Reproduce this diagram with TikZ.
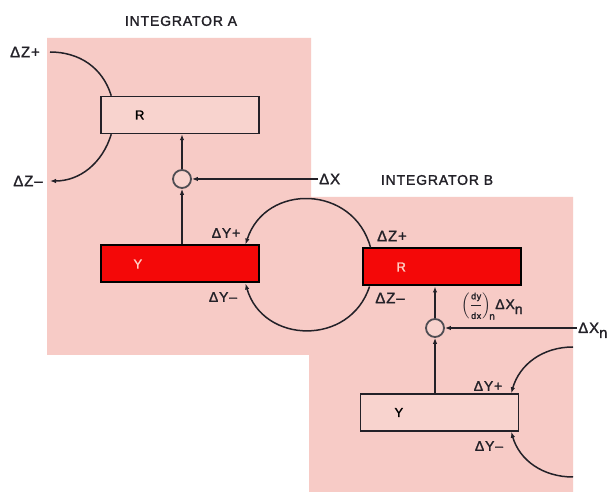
\documentclass[tikz,border=0pt]{standalone}
\usepackage{amsmath}
\usepackage{fontspec}
\setmainfont{Liberation Sans}[LetterSpace=6,FakeBold=1.6]
\usetikzlibrary{arrows.meta,calc}
\definecolor{bgpink}{RGB}{247,203,198}
\definecolor{boxpink}{RGB}{248,211,206}
\definecolor{regred}{RGB}{244,8,8}
\definecolor{ink}{RGB}{35,33,40}
\definecolor{redtext}{RGB}{255,205,195}

\begin{document}
\begin{tikzpicture}[x=1pt,y=1pt,font=\fontsize{14}{16}\selectfont,>={Latex[length=6pt,width=4.5pt]},reg/.style={draw=ink,line width=1.5pt,fill=boxpink,minimum height=37pt,text width=158pt,inner xsep=0pt,align=left,font=\fontsize{13}{15}\selectfont},full/.style={reg,fill=regred,draw=black,line width=2pt,text=redtext},sum/.style={circle,draw=ink!80,line width=1.8pt,fill=boxpink,minimum size=18pt,inner sep=0pt},lbl/.style={inner sep=1pt,text=ink},wire/.style={draw=ink,line width=1.2pt},loop/.style={draw=ink,line width=1.5pt}]
\fill[white] (0,0) rectangle (615,492);
\useasboundingbox (0,0) rectangle (615,492);
\fill[bgpink] (47,454) -- (311,454) -- (311,295) -- (573,295) -- (573,0) -- (309,0) -- (309,137) -- (47,137) -- cycle;
\node[lbl] (titleA) at (181,471) {INTEGRATOR A};
\node[lbl] (titleB) at (437,312) {INTEGRATOR B};
\node[reg] (rA) at (180,377) {\hspace*{34pt}R};
\node[full] (yA) at (179.5,228) {\hspace*{33pt}Y};
\node[full] (rB) at (441.5,225) {\hspace*{34pt}R};
\node[reg] (yB) at (439.5,79.5) {\hspace*{34pt}Y};
\node[sum] (sA) at (182,313) {};
\node[sum] (sB) at (435,164) {};
\node[lbl,anchor=west,font=\fontsize{15}{17}\selectfont] (dx) at (318,313) {ΔX};
\node[lbl,anchor=base west,font=\fontsize{15}{17}\selectfont] (dxn) at (577,159) {ΔX\raisebox{-5pt}{n}};
\node[lbl,font=\fontsize{15}{17}\selectfont] (zpA) at (25,440) {ΔZ+};
\node[lbl,font=\fontsize{15}{17}\selectfont] (zmA) at (28,311) {ΔZ--};
\node[lbl] (ypA) at (226,259) {ΔY+};
\node[lbl] (ymA) at (223,195) {ΔY--};
\node[lbl,font=\fontsize{15}{17}\selectfont] (zpB) at (392,256) {ΔZ+};
\node[lbl,font=\fontsize{15}{17}\selectfont] (zmB) at (390,194) {ΔZ--};
\node[lbl] (ypB) at (488,106) {ΔY+};
\node[lbl] (ymB) at (489,46) {ΔY--};
\node[lbl] (rate) at (492,186) {$\left(\dfrac{\text{\small dy}}{\text{\small dx}}\right)_{\!\text{n}}$ΔX\raisebox{-5pt}{n}};
\coordinate (zsA) at (50,440);
\coordinate (zeA) at (50,311);
\coordinate (ysB) at (573,145);
\coordinate (yeB) at (573,15);
\draw[loop] (zsA) to[out=0,in=107] ($(rA.north west)+(11,0)$);
\draw[loop,->] ($(rA.south west)+(11,0)$) to[out=-107,in=0] (zeA);
\draw[loop,->] ($(rB.north west)+(9,0)$) to[out=105,in=72,looseness=1.33] ($(yA.north east)+(-14,0)$);
\draw[loop,->] ($(rB.south west)+(8,0)$) to[out=-108,in=-74,looseness=1.3] ($(yA.south east)+(-14,0)$);
\draw[loop,->] (ysB) to[out=180,in=74] ($(yB.north east)+(-8,0)$);
\draw[loop,->] (yeB) to[out=180,in=-74] ($(yB.south east)+(-8,0)$);
\draw[wire,->] (yA.north -| sA) -- (sA);
\draw[wire,->] (sA) -- (sA |- rA.south);
\draw[wire,->] (dx.west) -- (sA);
\draw[wire,->] (yB.north -| sB) -- (sB);
\draw[wire,->] (sB) -- (sB |- rB.south);
\draw[wire,->] (sB -| dxn.west) -- (sB);
\end{tikzpicture}
\end{document}
